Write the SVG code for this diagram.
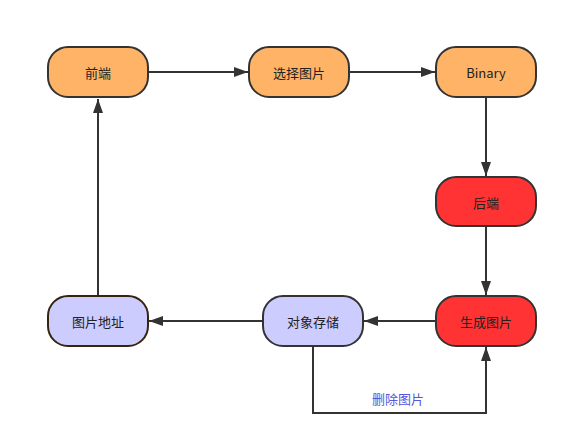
<svg xmlns="http://www.w3.org/2000/svg" width="568" height="446" viewBox="0 0 568 446">
<style>
.n rect{stroke:#333;stroke-width:2}
.o rect{fill:#FFB366}
.r rect{fill:#FF3333}
.p rect{fill:#CCCCFF;stroke:#36240f}
text{font-family:"Noto Sans CJK SC","Liberation Sans",sans-serif;font-size:13px;fill:#222;text-anchor:middle;dominant-baseline:central}
.e path{fill:none;stroke:#333;stroke-width:2}
.lbl{fill:#5555dd}
</style>
<defs>
<marker id="a" viewBox="0 0 14 10" refX="14" refY="5" markerWidth="14" markerHeight="10" markerUnits="userSpaceOnUse" orient="auto"><path d="M0,0 L14,5 L0,10 z" fill="#333"/></marker>
</defs>
<rect width="568" height="446" fill="#fff"/>
<g id="edges" class="e">
<path d="M148,72 H248" marker-end="url(#a)"/>
<path d="M349,72 H435" marker-end="url(#a)"/>
<path d="M486,97 V176" marker-end="url(#a)"/>
<path d="M486,226 V295" marker-end="url(#a)"/>
<path d="M436,321 H364" marker-end="url(#a)"/>
<path d="M263,321 H149" marker-end="url(#a)"/>
<path d="M98,296 V99" marker-end="url(#a)"/>
<path d="M313,346 V413 H486 V347" marker-end="url(#a)"/>
<text class="lbl" x="398" y="398">删除图片</text>
</g>
<g id="n1" class="n o"><rect x="48" y="47" width="100" height="50" rx="20"/><text x="98" y="72">前端</text></g>
<g id="n2" class="n o"><rect x="249" y="47" width="100" height="50" rx="20"/><text x="299" y="72">选择图片</text></g>
<g id="n3" class="n o"><rect x="436" y="47" width="100" height="50" rx="20"/><text x="486" y="72">Binary</text></g>
<g id="n4" class="n r"><rect x="436" y="177" width="100" height="49" rx="20"/><text x="486" y="202">后端</text></g>
<g id="n5" class="n r"><rect x="436" y="296" width="100" height="50" rx="20"/><text x="486" y="321">生成图片</text></g>
<g id="n6" class="n p"><rect x="263" y="296" width="100" height="50" rx="20" style="stroke:#333"/><text x="313" y="321">对象存储</text></g>
<g id="n7" class="n p"><rect x="48" y="296" width="100" height="50" rx="20"/><text x="98" y="321">图片地址</text></g>
</svg>
